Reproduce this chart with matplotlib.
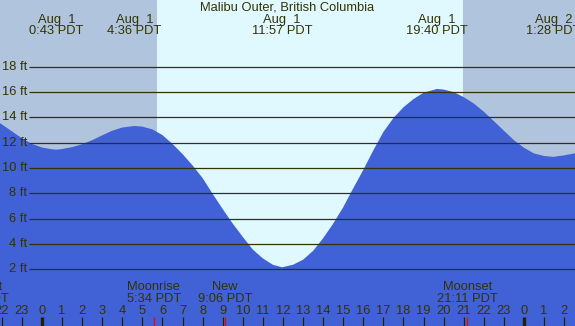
"""Tide chart for Malibu Outer, British Columbia, Aug 1."""

import matplotlib
matplotlib.use("Agg")
import matplotlib.pyplot as plt
import matplotlib.transforms as mtransforms

# tide height (ft), time in hours from midnight Aug 1
tide_hours = [-2.5, -2.0, -1.5, -1.0, -0.5, 0.0, 0.5, 0.72, 1.0, 1.5, 2.0, 2.5, 3.0,
              3.5, 4.0, 4.6, 5.0, 5.5, 6.0, 6.5, 7.0, 7.5, 8.0, 8.5, 9.0, 9.5, 10.0,
              10.5, 11.0, 11.5, 11.95, 12.5, 13.0, 13.5, 14.0, 14.5, 15.0, 15.5, 16.0,
              16.5, 17.0, 17.5, 18.0, 18.5, 19.0, 19.67, 20.0, 20.5, 21.0, 21.5, 22.0,
              22.5, 23.0, 23.5, 24.0, 24.5, 25.0, 25.47, 26.0, 26.5, 27.0]
tide_ft = [13.95, 13.45, 12.9, 12.35, 11.9, 11.62, 11.48, 11.45, 11.5, 11.65, 11.88,
           12.2, 12.58, 12.95, 13.2, 13.32, 13.27, 13.05, 12.6, 11.9, 11.1, 10.2, 9.2,
           7.95, 6.75, 5.6, 4.55, 3.55, 2.85, 2.35, 2.15, 2.35, 2.75, 3.45, 4.45, 5.6,
           6.9, 8.4, 9.85, 11.4, 12.85, 13.95, 14.8, 15.45, 15.95, 16.25, 16.2, 16.0,
           15.6, 15.1, 14.45, 13.7, 12.95, 12.2, 11.6, 11.15, 10.95, 10.88, 11.0, 11.15,
           11.35]

# high / low tide labels along the top
extreme_hours = [0.72, 4.6, 11.95, 19.67, 25.47]
extreme_dates = ["Aug  1", "Aug  1", "Aug  1", "Aug  1", "Aug  2"]
extreme_times = ["0:43 PDT", "4:36 PDT", "11:57 PDT", "19:40 PDT", "1:28 PDT"]

# moon events along the bottom
moon_hours = [-3.18, 5.57, 9.1, 21.18]
moon_names = ["Moonset", "Moonrise", "New", "Moonset"]
moon_times = ["20:49 PDT", "5:34 PDT", "9:06 PDT", "21:11 PDT"]

sunrise, sunset = 5.73, 20.95
grid_ft = [2, 4, 6, 8, 10, 12, 14, 16, 18]
tick_hours = list(range(-2, 27))

W, H = 575, 326
x0, x1 = -2.09, 26.54
y0, y1 = -2.49, 23.28
ink = "#333300"
night, day, water = "#b0c4de", "#e0f8ff", "#4161d6"
fs = 9.3

plt.rcParams["font.family"] = ["Liberation Sans", "DejaVu Sans"]
fig = plt.figure(figsize=(W / 100, H / 100), dpi=100)
ax = fig.add_axes([0, 0, 1, 1])
ax.set_xlim(x0, x1)
ax.set_ylim(y0, y1)
ax.axis("off")

ax.axvspan(x0, sunrise, color=night, lw=0)
ax.axvspan(sunrise, sunset, color=day, lw=0)
ax.axvspan(sunset, x1, color=night, lw=0)
ax.fill_between(tide_hours, tide_ft, y0, color=water, lw=0)

px = (x1 - x0) / W  # hours per pixel
py = (y1 - y0) / H  # ft per pixel
line_start = x0 + 29 * px
for g in grid_ft:
    ax.plot([line_start, x1], [g, g], color=ink, lw=0.9, solid_capstyle="butt")
    ax.text(x0 + 27 * px, g, f"{g} ft", ha="right", va="center", fontsize=fs, color=ink)

# top: title and extremes
top = mtransforms.blended_transform_factory(ax.transData, ax.transAxes)
ax.text(0.5, 1 - 8 / H, "Malibu Outer, British Columbia", transform=ax.transAxes,
        ha="center", va="center", fontsize=fs, color=ink)
for h, d, t in zip(extreme_hours, extreme_dates, extreme_times):
    ax.text(h, 1 - 20 / H, d, transform=top, ha="center", va="center", fontsize=fs, color=ink)
    ax.text(h, 1 - 31.5 / H, t, transform=top, ha="center", va="center", fontsize=fs, color=ink)

# bottom: hour ticks and moon events
tick_top = y0 + 9 * py
for h in tick_hours:
    lw = 2.4 if h % 24 == 0 else 0.9
    ax.plot([h, h], [y0, tick_top], color="#222200", lw=lw, solid_capstyle="butt")
    ax.text(h, y0 + 14.5 * py, str(h % 24), ha="center", va="center", fontsize=fs, color=ink)
for h, n, t in zip(moon_hours, moon_names, moon_times):
    ax.plot([h, h], [y0, tick_top], color="red", lw=0.9, solid_capstyle="butt")
    ax.text(h, y0 + 38.5 * py, n, ha="center", va="center", fontsize=fs, color=ink)
    ax.text(h, y0 + 27 * py, t, ha="center", va="center", fontsize=fs, color=ink)

fig.savefig("out.png", dpi=100)
